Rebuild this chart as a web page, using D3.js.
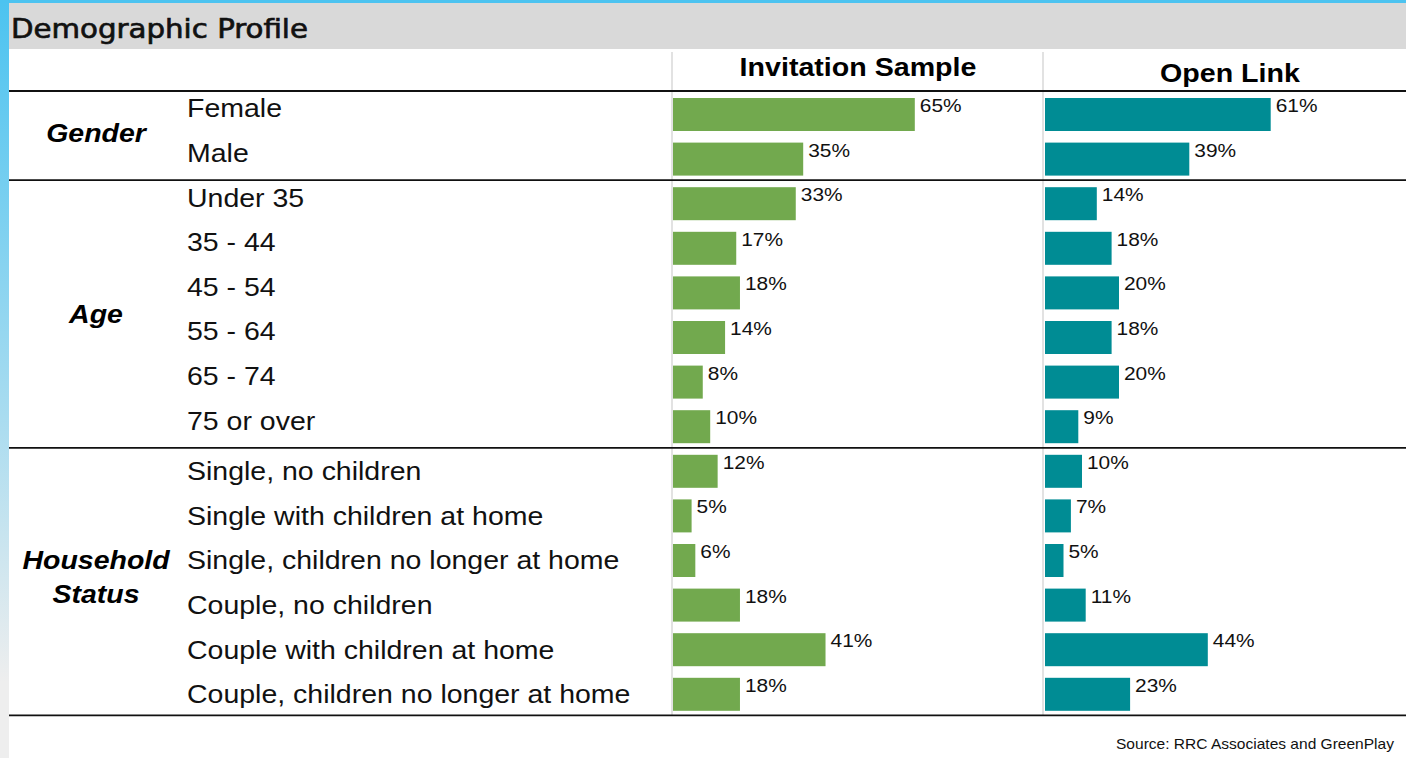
<!DOCTYPE html>
<html>
<head>
<meta charset="utf-8">
<script src="https://cdn.jsdelivr.net/npm/d3@7"></script>
<style>
  body { margin: 0; background: #fff; overflow: hidden; }
  text { font-family: "Liberation Sans", Arial, sans-serif; }
</style>
</head>
<body>
<script>
// row labels, groups and the two series (percent)
const categories = ["Female", "Male", "Under 35", "35 - 44", "45 - 54", "55 - 64", "65 - 74", "75 or over",
  "Single, no children", "Single with children at home", "Single, children no longer at home",
  "Couple, no children", "Couple with children at home", "Couple, children no longer at home"];
const invitationValues = [65, 35, 33, 17, 18, 14, 8, 10, 12, 5, 6, 18, 41, 18];
const openLinkValues = [61, 39, 14, 18, 20, 18, 20, 9, 10, 7, 5, 11, 44, 23];
const groupNames = [["Gender"], ["Age"], ["Household", "Status"]];
const groupSizes = [2, 6, 6];
const seriesNames = ["Invitation Sample", "Open Link"];

const width = 1406, height = 758;
const tableTop = 91, tableBottom = 715.4;
const barH = 33, barOffset = 7;
// the slide text is a bit wider than plain Arial, stretch it horizontally
const stretch = 1.14;
const labelShift = [0, 0, 6];
const groupShift = [6, 9, 4];

const svg = d3.select("body").append("svg")
  .attr("width", width)
  .attr("height", height);

// place text at x,y with a horizontal stretch
function put(sel, x, y, sx) {
  return sel.attr("transform", "translate(" + x + "," + y + ") scale(" + (sx || stretch) + ",1)");
}

// left blue strip + top band
const defs = svg.append("defs");
const grad = defs.append("linearGradient")
  .attr("id", "sideGrad")
  .attr("x1", 0).attr("y1", 0).attr("x2", 0).attr("y2", 1);
grad.append("stop").attr("offset", "0%").attr("stop-color", "#4cc3f0");
grad.append("stop").attr("offset", "55%").attr("stop-color", "#a9dcf0");
grad.append("stop").attr("offset", "90%").attr("stop-color", "#eeeeee");
grad.append("stop").attr("offset", "100%").attr("stop-color", "#eeeeee");

svg.append("rect").attr("x", 0).attr("y", 0).attr("width", 9).attr("height", height)
  .attr("fill", "url(#sideGrad)");
svg.append("rect").attr("x", 0).attr("y", 0).attr("width", width).attr("height", 3)
  .attr("fill", "#4cc3f0");

// header band
svg.append("rect").attr("x", 9).attr("y", 3).attr("width", width - 9).attr("height", 46)
  .attr("fill", "#d9d9d9");
svg.append("text")
  .attr("x", 11).attr("y", 38)
  .style("font-family", "'DejaVu Sans Condensed', 'DejaVu Sans', sans-serif")
  .style("font-size", "26px")
  .attr("fill", "#111")
  .attr("stroke", "#111")
  .attr("stroke-width", 0.6)
  .attr("textLength", 297)
  .attr("lengthAdjust", "spacingAndGlyphs")
  .text("Demographic Profile");

// scales
const y = d3.scaleBand()
  .domain(categories)
  .range([tableTop, tableBottom])
  .padding(0);

const xInv = d3.scaleLinear().domain([0, 100]).range([673, 673 + 372]);
const xOpen = d3.scaleLinear().domain([0, 100]).range([1045, 1045 + 370]);

// column separators
[672, 1043].forEach(x => {
  svg.append("line")
    .attr("x1", x).attr("x2", x)
    .attr("y1", 52).attr("y2", tableBottom)
    .attr("stroke", "#d9d9d9").attr("stroke-width", 1.5);
});

// column headers
put(svg.append("text"), 858, 76, 1.1)
  .attr("text-anchor", "middle")
  .style("font-size", "26px").style("font-weight", "bold")
  .text(seriesNames[0]);
put(svg.append("text"), 1230, 82, 1.1)
  .attr("text-anchor", "middle")
  .style("font-size", "26px").style("font-weight", "bold")
  .text(seriesNames[1]);

// group separators
let idx = 0;
const boundaries = [0];
groupSizes.forEach(n => { idx += n; boundaries.push(idx); });
boundaries.forEach(b => {
  const yy = b < categories.length ? y(categories[b]) : tableBottom;
  svg.append("line")
    .attr("x1", 9).attr("x2", width)
    .attr("y1", yy).attr("y2", yy)
    .attr("stroke", "#111").attr("stroke-width", 1.8);
});

// group labels
groupNames.forEach((lines, i) => {
  const first = categories[boundaries[i]];
  const last = categories[boundaries[i + 1] - 1];
  const mid = (y(first) + y(last) + y.bandwidth()) / 2;
  const lh = 34;
  lines.forEach((ln, j) => {
    put(svg.append("text"), 96, mid + (j - (lines.length - 1) / 2) * lh + groupShift[i])
      .attr("text-anchor", "middle")
      .style("font-size", "25px")
      .style("font-weight", "bold")
      .style("font-style", "italic")
      .text(ln);
  });
});

// category labels
const groupOf = categories.map((c, i) => boundaries.filter(b => b <= i).length - 1);
svg.append("g").selectAll("text")
  .data(categories)
  .join("text")
  .attr("transform", (d, i) => "translate(187," + (y(d) + y.bandwidth() / 2 + 4 + labelShift[groupOf[i]]) + ") scale(" + stretch + ",1)")
  .style("font-size", "25px")
  .attr("fill", "#111")
  .text(d => d);

// bars
function drawSeries(values, x, color) {
  const g = svg.append("g");
  g.selectAll("rect")
    .data(values)
    .join("rect")
    .attr("x", x(0))
    .attr("y", (d, i) => y(categories[i]) + barOffset)
    .attr("width", d => x(d) - x(0))
    .attr("height", barH)
    .attr("fill", color);
  g.selectAll("text")
    .data(values)
    .join("text")
    .attr("transform", (d, i) => "translate(" + (x(d) + 5) + "," + (y(categories[i]) + barOffset + 14) + ") scale(1.1,1)")
    .style("font-size", "19px")
    .attr("fill", "#111")
    .text(d => d + "%");
}
drawSeries(invitationValues, xInv, "#72a94e");
drawSeries(openLinkValues, xOpen, "#008c94");

// source note
put(svg.append("text"), 1116, 749, 1.11)
  .style("font-size", "14px")
  .attr("fill", "#111")
  .text("Source: RRC Associates and GreenPlay");
</script>
</body>
</html>
